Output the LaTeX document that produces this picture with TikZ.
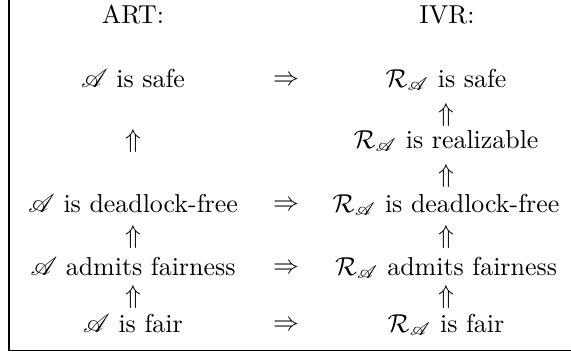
\documentclass[tikz,border=0pt]{standalone}
\usepackage{mathrsfs}
\begin{document}
\begin{tikzpicture}[x=0.386pt,y=-0.386pt,
  txt/.style={anchor=base,inner sep=0pt},
  sym/.style={inner sep=0pt}]
\useasboundingbox (0,0) rectangle (571,355);
\draw[line width=0.4pt] (9,0) -- (9,350.5) -- (571,350.5);
% headers
\node[txt] (hA) at (133,23) {ART:};
\node[txt] (hR) at (447,23) {IVR:};
% left column
\node[txt] (a1) at (133,87) {$\mathscr{A}$ is safe};
\node[sym] (ua1) at (133,141.5) {$\Uparrow$};
\node[txt] (a2) at (133,212) {$\mathscr{A}$ is deadlock-free};
\node[sym] (ua2) at (133,237) {$\Uparrow$};
\node[txt] (a3) at (133,275) {$\mathscr{A}$ admits fairness};
\node[sym] (ua3) at (133,297.5) {$\Uparrow$};
\node[txt] (a4) at (133,332) {$\mathscr{A}$ is fair};
% implications
\node[sym] (i1) at (286,80.5) {$\Rightarrow$};
\node[sym] (i2) at (286,205.5) {$\Rightarrow$};
\node[sym] (i3) at (286,268.5) {$\Rightarrow$};
\node[sym] (i4) at (286,325.5) {$\Rightarrow$};
% right column
\node[txt] (r1) at (446,87) {$\mathcal{R}_{\mathscr{A}}$ is safe};
\node[sym] (ur1) at (446,115) {$\Uparrow$};
\node[txt] (r2) at (446,148) {$\mathcal{R}_{\mathscr{A}}$ is realizable};
\node[sym] (ur2) at (446,176) {$\Uparrow$};
\node[txt] (r3) at (446,212) {$\mathcal{R}_{\mathscr{A}}$ is deadlock-free};
\node[sym] (ur3) at (446,237) {$\Uparrow$};
\node[txt] (r4) at (446,275) {$\mathcal{R}_{\mathscr{A}}$ admits fairness};
\node[sym] (ur4) at (446,297.5) {$\Uparrow$};
\node[txt] (r5) at (446,332) {$\mathcal{R}_{\mathscr{A}}$ is fair};
\end{tikzpicture}
\end{document}
